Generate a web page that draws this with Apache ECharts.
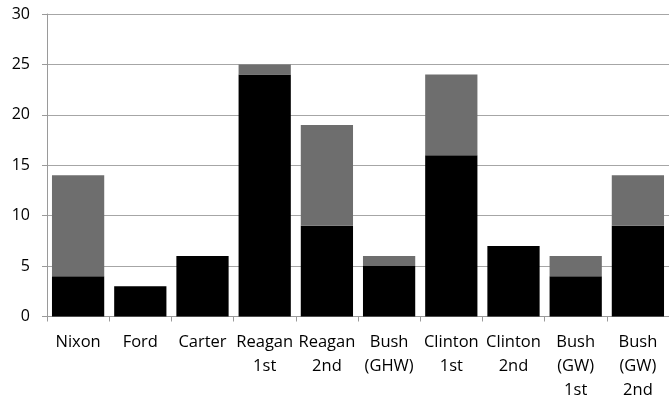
<!DOCTYPE html>
<html>
<head>
<meta charset="utf-8">
<script src="https://cdn.jsdelivr.net/npm/echarts@6/dist/echarts.min.js"></script>
<style>
  html, body { margin: 0; padding: 0; background: #fff; }
  #chart { width: 669px; height: 399px; }
</style>
</head>
<body>
<div id="chart"></div>
<script>
// Terms and the two stacked counts per term
const terms = ['Nixon', 'Ford', 'Carter', 'Reagan\n1st', 'Reagan\n2nd', 'Bush\n(GHW)',
  'Clinton\n1st', 'Clinton\n2nd', 'Bush\n(GW)\n1st', 'Bush\n(GW)\n2nd'];
const lowerCounts = [4, 3, 6, 24, 9, 5, 16, 7, 4, 9];
const upperCounts = [10, 0, 0, 1, 10, 1, 8, 0, 2, 5];
const yTicks = { min: 0, max: 30, interval: 5 };

const font = '"Open Sans", "Noto Sans", sans-serif';
const chart = echarts.init(document.getElementById('chart'), null, { renderer: 'canvas' });
chart.setOption({
  animation: false,
  grid: {
    left: 47, right: 0, top: 14, bottom: 82.5,
    containLabel: false, outerBoundsMode: 'none'
  },
  xAxis: {
    type: 'category',
    data: terms,
    axisLine: { lineStyle: { color: '#9a9a9a', width: 1 } },
    axisTick: { show: true, length: 5, lineStyle: { color: '#9a9a9a' } },
    axisLabel: {
      color: '#000', fontFamily: font, fontSize: 16.5, lineHeight: 24,
      margin: 14, interval: 0
    }
  },
  yAxis: {
    type: 'value',
    min: yTicks.min, max: yTicks.max, interval: yTicks.interval,
    axisLine: { show: true, lineStyle: { color: '#9a9a9a', width: 1 } },
    axisTick: { show: true, length: 5, lineStyle: { color: '#9a9a9a' } },
    splitLine: { lineStyle: { color: '#a6a6a6', width: 1 } },
    axisLabel: { color: '#000', fontFamily: font, fontSize: 16, margin: 17 }
  },
  series: [
    {
      type: 'bar', stack: 'total', data: lowerCounts,
      barCategoryGap: '16%',
      itemStyle: { color: '#000' }
    },
    {
      type: 'bar', stack: 'total', data: upperCounts,
      barCategoryGap: '16%',
      itemStyle: { color: '#6e6e6e' }
    }
  ]
});
</script>
</body>
</html>
